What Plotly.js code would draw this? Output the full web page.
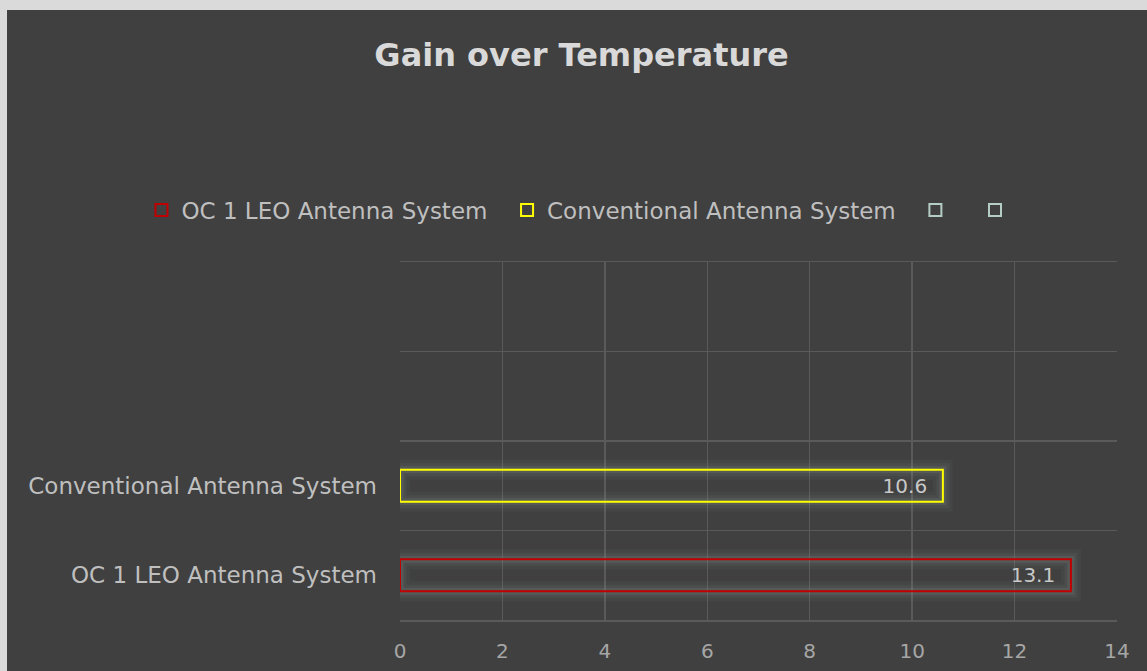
<!DOCTYPE html>
<html>
<head>
<meta charset="utf-8">
<script src="https://cdn.plot.ly/plotly-3.0.1.min.js"></script>
<style>
  html, body { margin: 0; padding: 0; background: #dadada; }
  #chart { position: absolute; left: 7px; top: 10px; width: 1140px; height: 661px; }
</style>
</head>
<body>
<div id="chart"></div>
<script>
// ---- data ----
const categories = ["OC 1 LEO Antenna System", "Conventional Antenna System", " ", "  "];
const seriesNames = ["OC 1 LEO Antenna System", "Conventional Antenna System", " ", "  "];
const oc1Values = [13.1];
const conventionalValues = [10.6];
const xTickValues = [0, 2, 4, 6, 8, 10, 12, 14];
const titleText = "Gain over Temperature";

const FONT = "DejaVu Sans, sans-serif";
const BW = 0.36;
const GRID = "#5a5a5a";
const PAD = "\u00a0\u00a0";
const LEGPAD = "\u00a0\u00a0";

function glow(cat, vals, w, col) {
  return {
    type: "bar", orientation: "h", y: [cat], x: vals, width: BW,
    marker: { color: "rgba(0,0,0,0)", line: { color: col, width: w } },
    showlegend: false, hoverinfo: "skip"
  };
}

const glowLayers = [[20, "rgba(140,160,150,0.06)"], [13, "rgba(140,160,150,0.10)"], [7, "rgba(140,160,150,0.16)"]];
const traces = [];
glowLayers.forEach(g => traces.push(glow(categories[0], oc1Values, g[0], g[1])));
glowLayers.forEach(g => traces.push(glow(categories[1], conventionalValues, g[0], g[1])));

traces.push(
  {
    type: "bar", orientation: "h", name: seriesNames[0] + LEGPAD,
    y: [categories[0]], x: oc1Values, width: BW,
    marker: { color: "rgba(0,0,0,0)", line: { color: "#c00000", width: 2 } },
    text: oc1Values.map(v => v.toFixed(1) + PAD), textposition: "inside", insidetextanchor: "end",
    constraintext: "none",
    textfont: { family: FONT, size: 20, color: "#c8c8c8" }
  },
  {
    type: "bar", orientation: "h", name: seriesNames[1] + LEGPAD,
    y: [categories[1]], x: conventionalValues, width: BW,
    marker: { color: "rgba(0,0,0,0)", line: { color: "#ffff00", width: 2 } },
    text: conventionalValues.map(v => v.toFixed(1) + PAD), textposition: "inside", insidetextanchor: "end",
    constraintext: "none",
    textfont: { family: FONT, size: 20, color: "#c8c8c8" }
  },
  {
    type: "bar", orientation: "h", name: seriesNames[2] + "\u00a0",
    y: [categories[2]], x: [null], width: BW,
    marker: { color: "rgba(0,0,0,0)", line: { color: "#b4cdc5", width: 2 } }
  },
  {
    type: "bar", orientation: "h", name: seriesNames[3],
    y: [categories[3]], x: [null], width: BW,
    marker: { color: "rgba(0,0,0,0)", line: { color: "#b4cdc5", width: 2 } }
  }
);

const layout = {
  width: 1140, height: 661,
  paper_bgcolor: "#404040", plot_bgcolor: "#404040",
  margin: { l: 393, r: 30, t: 252, b: 51, pad: 0, autoexpand: false },
  barmode: "overlay",
  title: {
    text: "<b>" + titleText + "</b>",
    font: { family: FONT, size: 32, color: "#d9d9d9" },
    x: 0.504, xanchor: "center", xref: "container",
    y: 1 - 45 / 661, yanchor: "middle", yref: "container"
  },
  showlegend: true,
  legend: {
    orientation: "h", xref: "paper", yref: "paper",
    x: -0.3606, xanchor: "left", y: 1.145, yanchor: "middle",
    font: { family: FONT, size: 23, color: "#bfbfbf" },
    bgcolor: "rgba(0,0,0,0)", traceorder: "normal",
    itemwidth: 30
  },
  xaxis: {
    range: [0, 14], tickvals: xTickValues, ticktext: xTickValues.map(String),
    showgrid: true, gridcolor: GRID, gridwidth: 1.5,
    zeroline: false, showline: true, mirror: true, linecolor: GRID, linewidth: 1.5,
    ticks: "outside", ticklen: 12, tickcolor: "rgba(0,0,0,0)",
    tickfont: { family: FONT, size: 20, color: "#a6a6a6" },
    fixedrange: true
  },
  yaxis: {
    type: "category", categoryorder: "array", categoryarray: categories,
    range: [-0.5, 3.5],
    tickson: "boundaries",
    showgrid: true, gridcolor: GRID, gridwidth: 1.5,
    zeroline: false, showline: false,
    ticks: "", ticklabelstandoff: 22,
    tickfont: { family: FONT, size: 23, color: "#bfbfbf" },
    fixedrange: true
  },
  yaxis2: {
    overlaying: "y", side: "right", anchor: "x",
    range: [0, 1], showline: true, linecolor: GRID, linewidth: 1.5,
    showgrid: false, zeroline: false, showticklabels: false, ticks: "",
    fixedrange: true
  }
};

Plotly.newPlot("chart", traces, layout, { displayModeBar: false, staticPlot: true });
</script>
</body>
</html>
